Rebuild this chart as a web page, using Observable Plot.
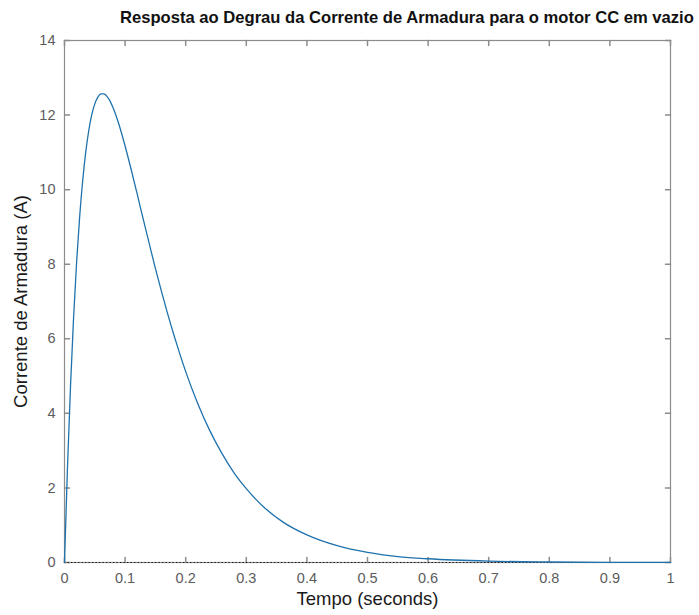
<!DOCTYPE html>
<html>
<head>
<meta charset="utf-8">
<script src="https://cdn.jsdelivr.net/npm/d3@7"></script>
<script src="https://cdn.jsdelivr.net/npm/@observablehq/plot@0.6"></script>
<style>
  html, body { margin: 0; padding: 0; background: #fff; }
  #wrap { width: 699px; height: 615px; position: relative; overflow: hidden; }
  #title {
    height: 32px; position: relative;
    font-family: "Liberation Sans", Arial, sans-serif;
    font-weight: bold; font-size: 16.6px; color: #111;
  }
  #title span { position: absolute; left: 120px; top: 8px; white-space: nowrap; }
  svg { display: block; }
</style>
</head>
<body>
<div id="wrap">
  <div id="title"><span>Resposta ao Degrau da Corrente de Armadura para o motor CC em vazio</span></div>
  <div id="chart"></div>
</div>
<script>
// Armature current step response (no-load DC motor), sampled along time
const time = [
  0, 0.005, 0.01, 0.015, 0.02, 0.025, 0.03, 0.035, 0.04, 0.045,
  0.05, 0.055, 0.06, 0.065, 0.07, 0.075, 0.08, 0.09, 0.1, 0.11,
  0.12, 0.13, 0.14, 0.15, 0.16, 0.17, 0.18, 0.19, 0.2, 0.22,
  0.24, 0.26, 0.28, 0.3, 0.33, 0.36, 0.4, 0.45, 0.5, 0.55,
  0.6, 0.7, 0.8, 0.9, 1.0
];
const current = [
  0, 2.59, 4.76, 6.57, 8.06, 9.27, 10.24, 11.00, 11.58, 12.01,
  12.30, 12.48, 12.57, 12.57, 12.50, 12.38, 12.20, 11.74, 11.17, 10.54,
  9.88, 9.20, 8.54, 7.89, 7.27, 6.68, 6.13, 5.61, 5.12, 4.26,
  3.53, 2.92, 2.40, 1.98, 1.47, 1.09, 0.74, 0.45, 0.27, 0.16,
  0.10, 0.037, 0.014, 0.005, 0.002
];
const steadyState = [0];

const xTicks = [0, 0.1, 0.2, 0.3, 0.4, 0.5, 0.6, 0.7, 0.8, 0.9, 1];
const yTicks = [0, 2, 4, 6, 8, 10, 12, 14];

const xLabel = "Tempo (seconds)";
const yLabel = "Corrente de Armadura (A)";

const series = time.map((t, i) => ({t, v: current[i]}));

// straight tick segment pointing along the vector direction
const tickLine = {
  draw(context, l) { context.moveTo(0, 0); context.lineTo(0, -l); }
};

const font = "Liberation Sans, Arial, sans-serif";
const axisGray = "#8c8c8c";
const labelGray = "#5c5c5c";

const chart = Plot.plot({
  width: 699,
  height: 583,
  marginTop: 8,
  marginBottom: 53,
  marginLeft: 64,
  marginRight: 29,
  style: {fontFamily: font, background: "#fff"},
  x: {domain: [0, 1]},
  y: {domain: [0, 14]},
  marks: [
    Plot.frame({stroke: axisGray, strokeWidth: 1.2}),
    // tick labels
    Plot.axisX(xTicks, {tickSize: 0, tickPadding: 10, fontSize: 14.5, fill: labelGray, label: null, tickFormat: d => String(d)}),
    Plot.axisY(yTicks, {tickSize: 0, tickPadding: 9, fontSize: 14.5, fill: labelGray, label: null, tickFormat: d => String(d)}),
    // inward ticks on all four sides
    Plot.vector(xTicks, {x: d => d, y: 0, length: 5, rotate: 0, anchor: "start", shape: tickLine, stroke: axisGray}),
    Plot.vector(xTicks, {x: d => d, y: 14, length: 5, rotate: 180, anchor: "start", shape: tickLine, stroke: axisGray}),
    Plot.vector(yTicks, {x: 0, y: d => d, length: 5, rotate: 90, anchor: "start", shape: tickLine, stroke: axisGray}),
    Plot.vector(yTicks, {x: 1, y: d => d, length: 5, rotate: -90, anchor: "start", shape: tickLine, stroke: axisGray}),
    // steady-state reference
    Plot.ruleY(steadyState, {stroke: "#111", strokeWidth: 1.1, strokeDasharray: "1.3,2.2"}),
    // response curve
    Plot.line(series, {x: "t", y: "v", stroke: "#1f72ad", strokeWidth: 1.3, curve: "monotone-x"}),
    // axis titles
    Plot.text([xLabel], {frameAnchor: "bottom", dy: 29, lineAnchor: "top", fontSize: 18.5, fill: "#1a1a1a", text: d => d}),
    Plot.text([yLabel], {frameAnchor: "left", dx: -43, rotate: -90, textAnchor: "middle", lineAnchor: "middle", fontSize: 18.5, fill: "#1a1a1a", text: d => d})
  ]
});
document.getElementById("chart").appendChild(chart);
</script>
</body>
</html>
